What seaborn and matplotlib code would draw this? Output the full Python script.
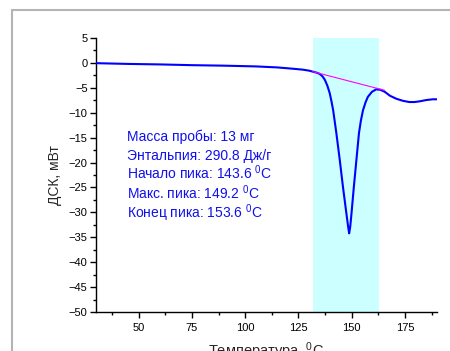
import matplotlib
matplotlib.use("Agg")
import matplotlib.pyplot as plt
from matplotlib.lines import Line2D
import seaborn as sns
import pandas as pd

# DSC curve of the sample
temperature = [30, 45, 60, 75, 90, 105, 115, 122, 127, 130, 131.9, 133.5, 135,
               136.3, 137.4, 138.6, 139.7, 140.5, 141.3, 142.8, 144.4, 145.9,
               147.5, 148.3, 148.8, 149.3, 149.9, 151, 152.2, 153.4, 154.3,
               155.3, 156.5, 157.6, 159.5, 161.5, 163.5, 165.5, 168, 171, 174,
               177, 179.5, 182, 185, 188, 190]
dsc = [-0.05, -0.2, -0.3, -0.45, -0.55, -0.7, -0.9, -1.15, -1.35, -1.55, -1.77,
       -1.95, -2.2, -2.7, -3.4, -4.6, -6.1, -7.7, -9.5, -14.1, -19.5, -24.9,
       -30.2, -32.8, -34.2, -32.9, -30.2, -24.9, -19.5, -14.1, -11.6, -9.5,
       -7.9, -6.8, -5.8, -5.3, -5.4, -5.8, -6.6, -7.2, -7.6, -7.85, -7.85,
       -7.7, -7.45, -7.3, -7.3]

# integration baseline and peak window
baseline_t = [131.7, 165.5]
baseline_y = [-1.75, -5.5]
window = [131.7, 162.7]

info_lines = [
    "Масса пробы: 13 мг",
    "Энтальпия: 290.8 Дж/г",
    "Начало пика: 143.6 $^{0}$C",
    "Макс. пика: 149.2 $^{0}$C",
    "Конец пика: 153.6 $^{0}$C",
]

x_ticks = [50, 75, 100, 125, 150, 175]
y_ticks = list(range(-50, 6, 5))

sns.set_style("ticks")
plt.rcParams["font.family"] = ["Liberation Sans", "DejaVu Sans"]
plt.rcParams["mathtext.fontset"] = "custom"
plt.rcParams["mathtext.rm"] = "Liberation Sans"
plt.rcParams["mathtext.it"] = "Liberation Sans"

fig = plt.figure(figsize=(4.5, 3.51), dpi=100)
ax = fig.add_axes([0.2133, 0.111, 0.7577, 0.7807])

df = pd.DataFrame({"T": temperature, "DSC": dsc})
ax.axvspan(window[0], window[1], color="#ccffff", lw=0, zorder=0)
sns.lineplot(data=df, x="T", y="DSC", sort=False, estimator=None,
             color="#0000ff", lw=1.5, ax=ax, zorder=3)
ax.plot(baseline_t, baseline_y, color="#ff00ff", lw=0.8, zorder=4)

ax.set_xlim(30, 190)
ax.set_ylim(-50, 5)
ax.set_xticks(x_ticks)
ax.set_yticks(y_ticks)
ax.set_xticks([37.5 + 25 * i for i in range(7)], minor=True)
ax.set_yticks([-47.5 + 5 * i for i in range(11)], minor=True)
ax.tick_params(axis="both", which="major", direction="out", length=4,
               width=1, labelsize=8, colors="black")
ax.tick_params(axis="x", which="major", pad=4)
ax.tick_params(axis="y", which="major", pad=2)
ax.tick_params(axis="both", which="minor", direction="out", length=2.5,
               width=1, colors="black")
for side in ("top", "right"):
    ax.spines[side].set_visible(False)
for side in ("left", "bottom"):
    ax.spines[side].set_linewidth(1)
    ax.spines[side].set_color("black")

ax.set_xlabel("Температура, $^{0}$C", fontsize=10.5, labelpad=5)
ax.set_ylabel("ДСК, мВт", fontsize=10, labelpad=5)

y0 = 0.625
for i, line in enumerate(info_lines):
    ax.text(0.09, y0 - i * 0.0705, line, transform=ax.transAxes,
            color="#1010ee", fontsize=10, va="baseline", ha="left")

# page frame
fig.add_artist(Line2D([12 / 450, 12 / 450], [0, 1 - 10 / 351],
                      transform=fig.transFigure, color="#b4b4b4", lw=1.5))
fig.add_artist(Line2D([12 / 450, 1], [1 - 10 / 351, 1 - 10 / 351],
                      transform=fig.transFigure, color="#b4b4b4", lw=1.5))

fig.savefig("out.png", dpi=100)
